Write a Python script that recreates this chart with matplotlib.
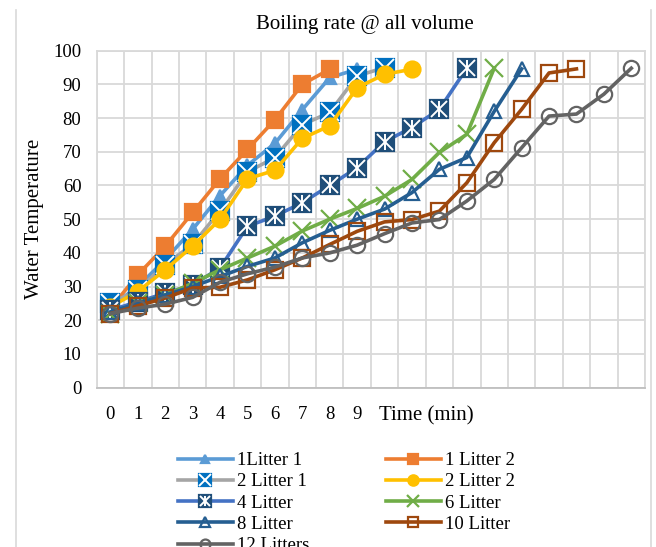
import numpy as np
import matplotlib
matplotlib.use("Agg")
import matplotlib.pyplot as plt
from matplotlib.lines import Line2D

plt.rcParams['font.family'] = ['Liberation Serif', 'DejaVu Serif']

# categories on the x axis (only the first ten carry a label)
x_labels = ['0', '1', '2', '3', '4', '5', '6', '7', '8', '9'] + [''] * 10

# water temperature readings per series
l1_a = [24, 30, 38, 47, 57, 66, 72.5, 82.5, 92, 94.5]
l1_b = [23.5, 33.5, 42, 52, 62, 70.7, 79.5, 90, 94.5]
l2_a = [25, 29, 36.5, 42.5, 52.5, 64, 68.3, 78, 81.7, 92.5, 95]
l2_b = [24, 28.5, 35, 42, 50, 62, 64.5, 74, 77.7, 89, 93, 94.5]
l4 = [23, 25.5, 28, 30.5, 35.5, 47.9, 50.9, 54.9, 60, 65.3, 73, 77.2, 82.6, 94.8]
l6 = [22, 25, 27.5, 31, 35, 38.5, 42, 46.5, 50, 53.2, 56.8, 61.8, 69.8, 75.2, 94.8]
l8 = [22.5, 25, 27.5, 30, 33, 36, 38.5, 43, 46.7, 50, 53, 57.9, 64.8, 68.3, 82, 94.6]
l10 = [22, 24.3, 26.6, 29.6, 29.8, 32, 35, 38.5, 42.5, 46.4, 49.2, 49.9, 52.4, 60.8, 72.7, 82.6, 93.4, 94.6]
l12 = [22, 23.6, 24.8, 26.8, 31.3, 33.8, 35.8, 38.5, 40, 42.3, 45.7, 48.9, 49.9, 55.4, 61.8, 71.2, 80.6, 81.2, 87.1, 94.8]

fig = plt.figure(figsize=(6.56, 5.47), dpi=100)
ax = fig.add_axes([96.7 / 656, 1 - 387.7 / 547, (645 - 96.7) / 656, (387.7 - 50.7) / 547])

lw = 2.6
handles = []


def series(vals, color, marker, ms, face, edge, label, over=None):
    x = np.arange(len(vals))
    ln, = ax.plot(x, vals, color=color, lw=lw, marker=marker, ms=ms,
                  markerfacecolor=face, markeredgecolor=edge, mew=1.6,
                  label=label, solid_joinstyle='round')
    h = [ln]
    if over is not None:
        for m, s in over:
            o, = ax.plot(x, vals, ls='none', marker=m, ms=s, color='white', mew=1.4)
            h.append(o)
    handles.append(tuple(h) if len(h) > 1 else ln)


series(l1_a, '#5B9BD5', '^', 9, '#5B9BD5', '#5B9BD5', '1Litter 1')
series(l1_b, '#ED7D31', 's', 11.5, '#ED7D31', '#ED7D31', '1 Litter 2')
series(l2_a, '#A5A5A5', 's', 13.5, '#0070C0', '#0070C0', '2 Litter 1', over=[('x', 13)])
series(l2_b, '#FFC000', 'o', 11.5, '#FFC000', '#FFC000', '2 Litter 2')
series(l4, '#4472C4', 's', 13.5, '#1F4E79', '#1F4E79', '4 Litter', over=[('x', 11), ('|', 11)])
series(l6, '#70AD47', 'x', 13, '#70AD47', '#70AD47', '6 Litter')
series(l8, '#255E91', '^', 10, 'none', '#255E91', '8 Litter')
series(l10, '#9E480E', 's', 11.5, 'none', '#9E480E', '10 Litter')
series(l12, '#636363', 'o', 11, 'none', '#636363', '12 Litters')

ax.set_xlim(-0.5, 19.5)
ax.set_ylim(0, 100)
ax.set_yticks(np.arange(0, 101, 10))
ax.set_xticks(np.arange(20))
ax.set_xticklabels(x_labels)
ax.set_xticks(np.arange(-0.5, 20, 1), minor=True)
ax.grid(False)
ax.grid(True, which='minor', axis='x', color='#D9D9D9', lw=1.3)
ax.grid(True, which='major', axis='y', color='#D9D9D9', lw=1.3)
ax.set_axisbelow(True)
for s in ax.spines.values():
    s.set_color('#D9D9D9')
    s.set_linewidth(1.3)
ax.spines['bottom'].set_color('#BFBFBF')
ax.tick_params(which='both', length=0)
ax.tick_params(axis='x', pad=13, labelsize=13.5)
ax.tick_params(axis='y', pad=11, labelsize=13.5)

fig.text(365 / 656, 1 - 25 / 547, 'Boiling rate @ all volume', ha='center', va='center', fontsize=15)
fig.text(35 / 656, 1 - 219 / 547, 'Water Temperature', ha='center', va='center', rotation=90, fontsize=15)
fig.text(426 / 656, 1 - 416 / 547, 'Time (min)', ha='center', va='center', fontsize=15)

# chart area border
for xp in (16, 651):
    fig.add_artist(Line2D([xp / 656, xp / 656], [1 - 10 / 547, 0], color='#D9D9D9', lw=1.2))

order = [0, 2, 4, 6, 8, 1, 3, 5, 7]
labels = ['1Litter 1', '1 Litter 2', '2 Litter 1', '2 Litter 2', '4 Litter',
          '6 Litter', '8 Litter', '10 Litter', '12 Litters']
fig.legend([handles[i] for i in order], [labels[i] for i in order],
           loc='upper left', bbox_to_anchor=(178 / 656, 1 - 452 / 547), ncol=2,
           frameon=False, fontsize=13.5, borderpad=0, borderaxespad=0,
           handlelength=2.93, handletextpad=0.2, columnspacing=4.1,
           labelspacing=0.22, markerscale=0.65, numpoints=1)

fig.savefig('out.png', dpi=100)
